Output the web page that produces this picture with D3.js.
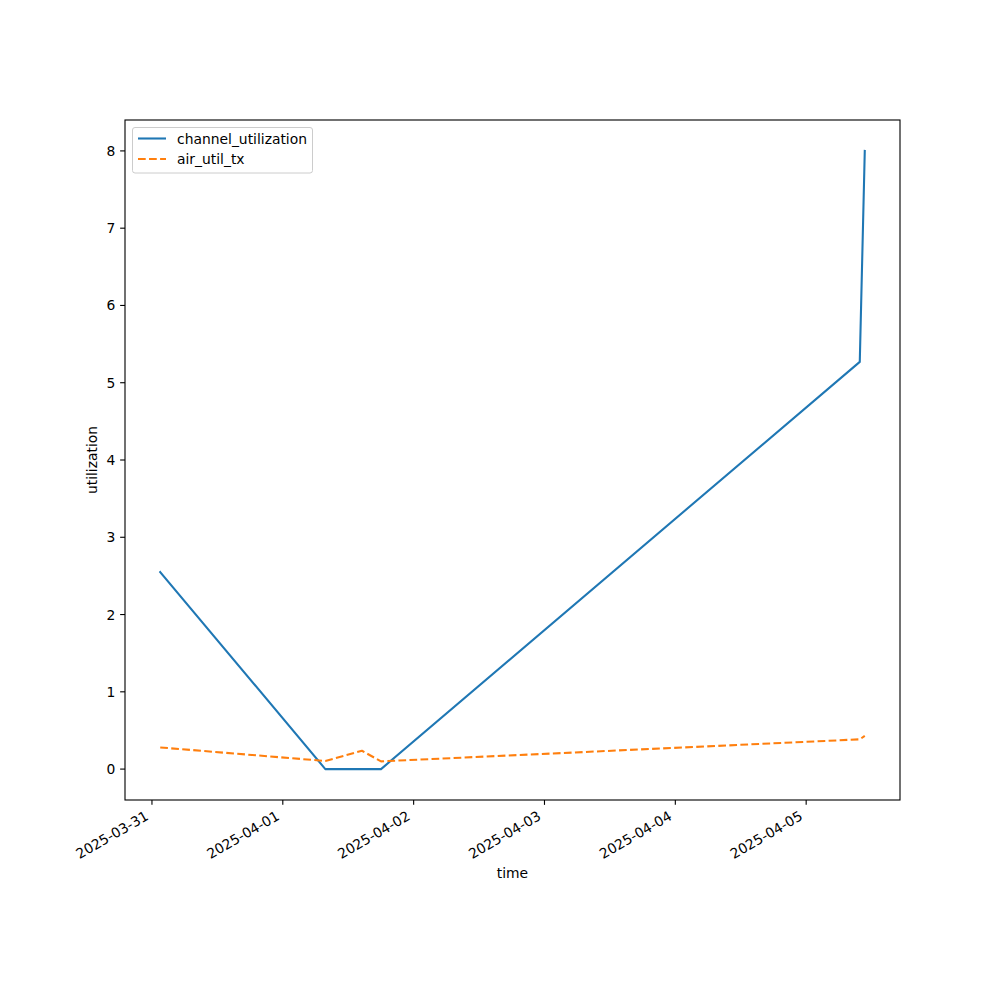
<!DOCTYPE html>
<html>
<head>
<meta charset="utf-8">
<script src="https://cdn.jsdelivr.net/npm/d3@7"></script>
<style>
  body { margin: 0; background: #fff; }
  svg { display: block; font-family: "DejaVu Sans", sans-serif; }
</style>
</head>
<body>
<svg id="chart" width="1000" height="1000"></svg>
<script>
const times = ["2025-03-31T01:31", "2025-04-01T07:48", "2025-04-01T14:31", "2025-04-01T18:01", "2025-04-05T09:50", "2025-04-05T10:45"];
const channelUtilization = [2.55, 0.0, 0.0, 0.0, 5.27, 8.0];
const airUtilTx = [0.28, 0.105, 0.237, 0.1, 0.385, 0.43];
const xTickLabels = ["2025-03-31", "2025-04-01", "2025-04-02", "2025-04-03", "2025-04-04", "2025-04-05"];
const yTickValues = [0, 1, 2, 3, 4, 5, 6, 7, 8];
const seriesNames = ["channel_utilization", "air_util_tx"];
const seriesColors = ["#1f77b4", "#ff7f0e"];

const parse = d3.timeParse("%Y-%m-%dT%H:%M");
const parseDay = d3.timeParse("%Y-%m-%d");
const dates = times.map(parse);

const svg = d3.select("#chart");
const L = 125, R = 900, T = 120, B = 800;
const pt = 100 / 72;
const lw = 1.5 * pt;
const dash = `${3.7 * lw},${1.6 * lw}`;
const tickLen = 3.5 * pt, tickPad = 3.5 * pt;

const tExt = d3.extent(dates);
const span = tExt[1] - tExt[0];
const x = d3.scaleTime()
  .domain([new Date(+tExt[0] - 0.05 * span), new Date(+tExt[1] + 0.05 * span)])
  .range([L, R]);
const allY = channelUtilization.concat(airUtilTx);
const yMin = d3.min(allY), yMax = d3.max(allY), ySpan = yMax - yMin;
const y = d3.scaleLinear()
  .domain([yMin - 0.05 * ySpan, yMax + 0.05 * ySpan])
  .range([B, T]);

const fontSize = "13.89px";

// lines
const series = [channelUtilization, airUtilTx];
series.forEach((vals, i) => {
  const line = d3.line().x((d, j) => x(dates[j])).y(d => y(d));
  svg.append("path")
    .datum(vals)
    .attr("d", line)
    .attr("fill", "none")
    .attr("stroke", seriesColors[i])
    .attr("stroke-width", lw)
    .attr("stroke-linejoin", "round")
    .attr("stroke-linecap", i === 1 ? "butt" : "square")
    .attr("stroke-dasharray", i === 1 ? dash : null);
});

// frame
svg.append("rect")
  .attr("x", L).attr("y", T).attr("width", R - L).attr("height", B - T)
  .attr("fill", "none").attr("stroke", "#000").attr("stroke-width", 0.8 * pt);

// x axis
const xTickDates = xTickLabels.map(parseDay);
const xAxis = svg.append("g");
xTickDates.forEach((d, i) => {
  const px = x(d);
  xAxis.append("line").attr("x1", px).attr("x2", px).attr("y1", B).attr("y2", B + tickLen)
    .attr("stroke", "#000").attr("stroke-width", 0.8 * pt);
  xAxis.append("text")
    .attr("transform", `translate(${px - 2.5},${B + tickLen + tickPad + 9.2}) rotate(-30)`)
    .attr("text-anchor", "end")
    .attr("font-size", fontSize)
    .attr("fill", "#000")
    .text(xTickLabels[i]);
});

// y axis
const yAxis = svg.append("g");
yTickValues.forEach(v => {
  const py = y(v);
  yAxis.append("line").attr("x1", L - tickLen).attr("x2", L).attr("y1", py).attr("y2", py)
    .attr("stroke", "#000").attr("stroke-width", 0.8 * pt);
  yAxis.append("text")
    .attr("x", L - tickLen - tickPad).attr("y", py).attr("dy", "0.36em")
    .attr("text-anchor", "end")
    .attr("font-size", fontSize)
    .attr("fill", "#000")
    .text(v);
});

// axis labels
svg.append("text").attr("x", (L + R) / 2).attr("y", 878)
  .attr("text-anchor", "middle").attr("font-size", fontSize).text("time");
svg.append("text")
  .attr("transform", `translate(97,${(T + B) / 2}) rotate(-90)`)
  .attr("text-anchor", "middle").attr("font-size", fontSize).text("utilization");

// legend
const lg = svg.append("g");
lg.append("rect")
  .attr("x", 132.5).attr("y", 127.5).attr("width", 180).attr("height", 45.5)
  .attr("rx", 2.5).attr("ry", 2.5)
  .attr("fill", "#fff").attr("fill-opacity", 0.8)
  .attr("stroke", "#cccccc").attr("stroke-width", 1);
seriesNames.forEach((name, i) => {
  const ly = 138.5 + i * 20.5;
  lg.append("line")
    .attr("x1", 138).attr("x2", 166).attr("y1", ly).attr("y2", ly)
    .attr("stroke", seriesColors[i]).attr("stroke-width", lw)
    .attr("stroke-dasharray", i === 1 ? dash : null);
  lg.append("text")
    .attr("x", 177).attr("y", ly).attr("dy", "0.36em")
    .attr("font-size", fontSize).attr("fill", "#000")
    .text(name);
});
</script>
</body>
</html>
